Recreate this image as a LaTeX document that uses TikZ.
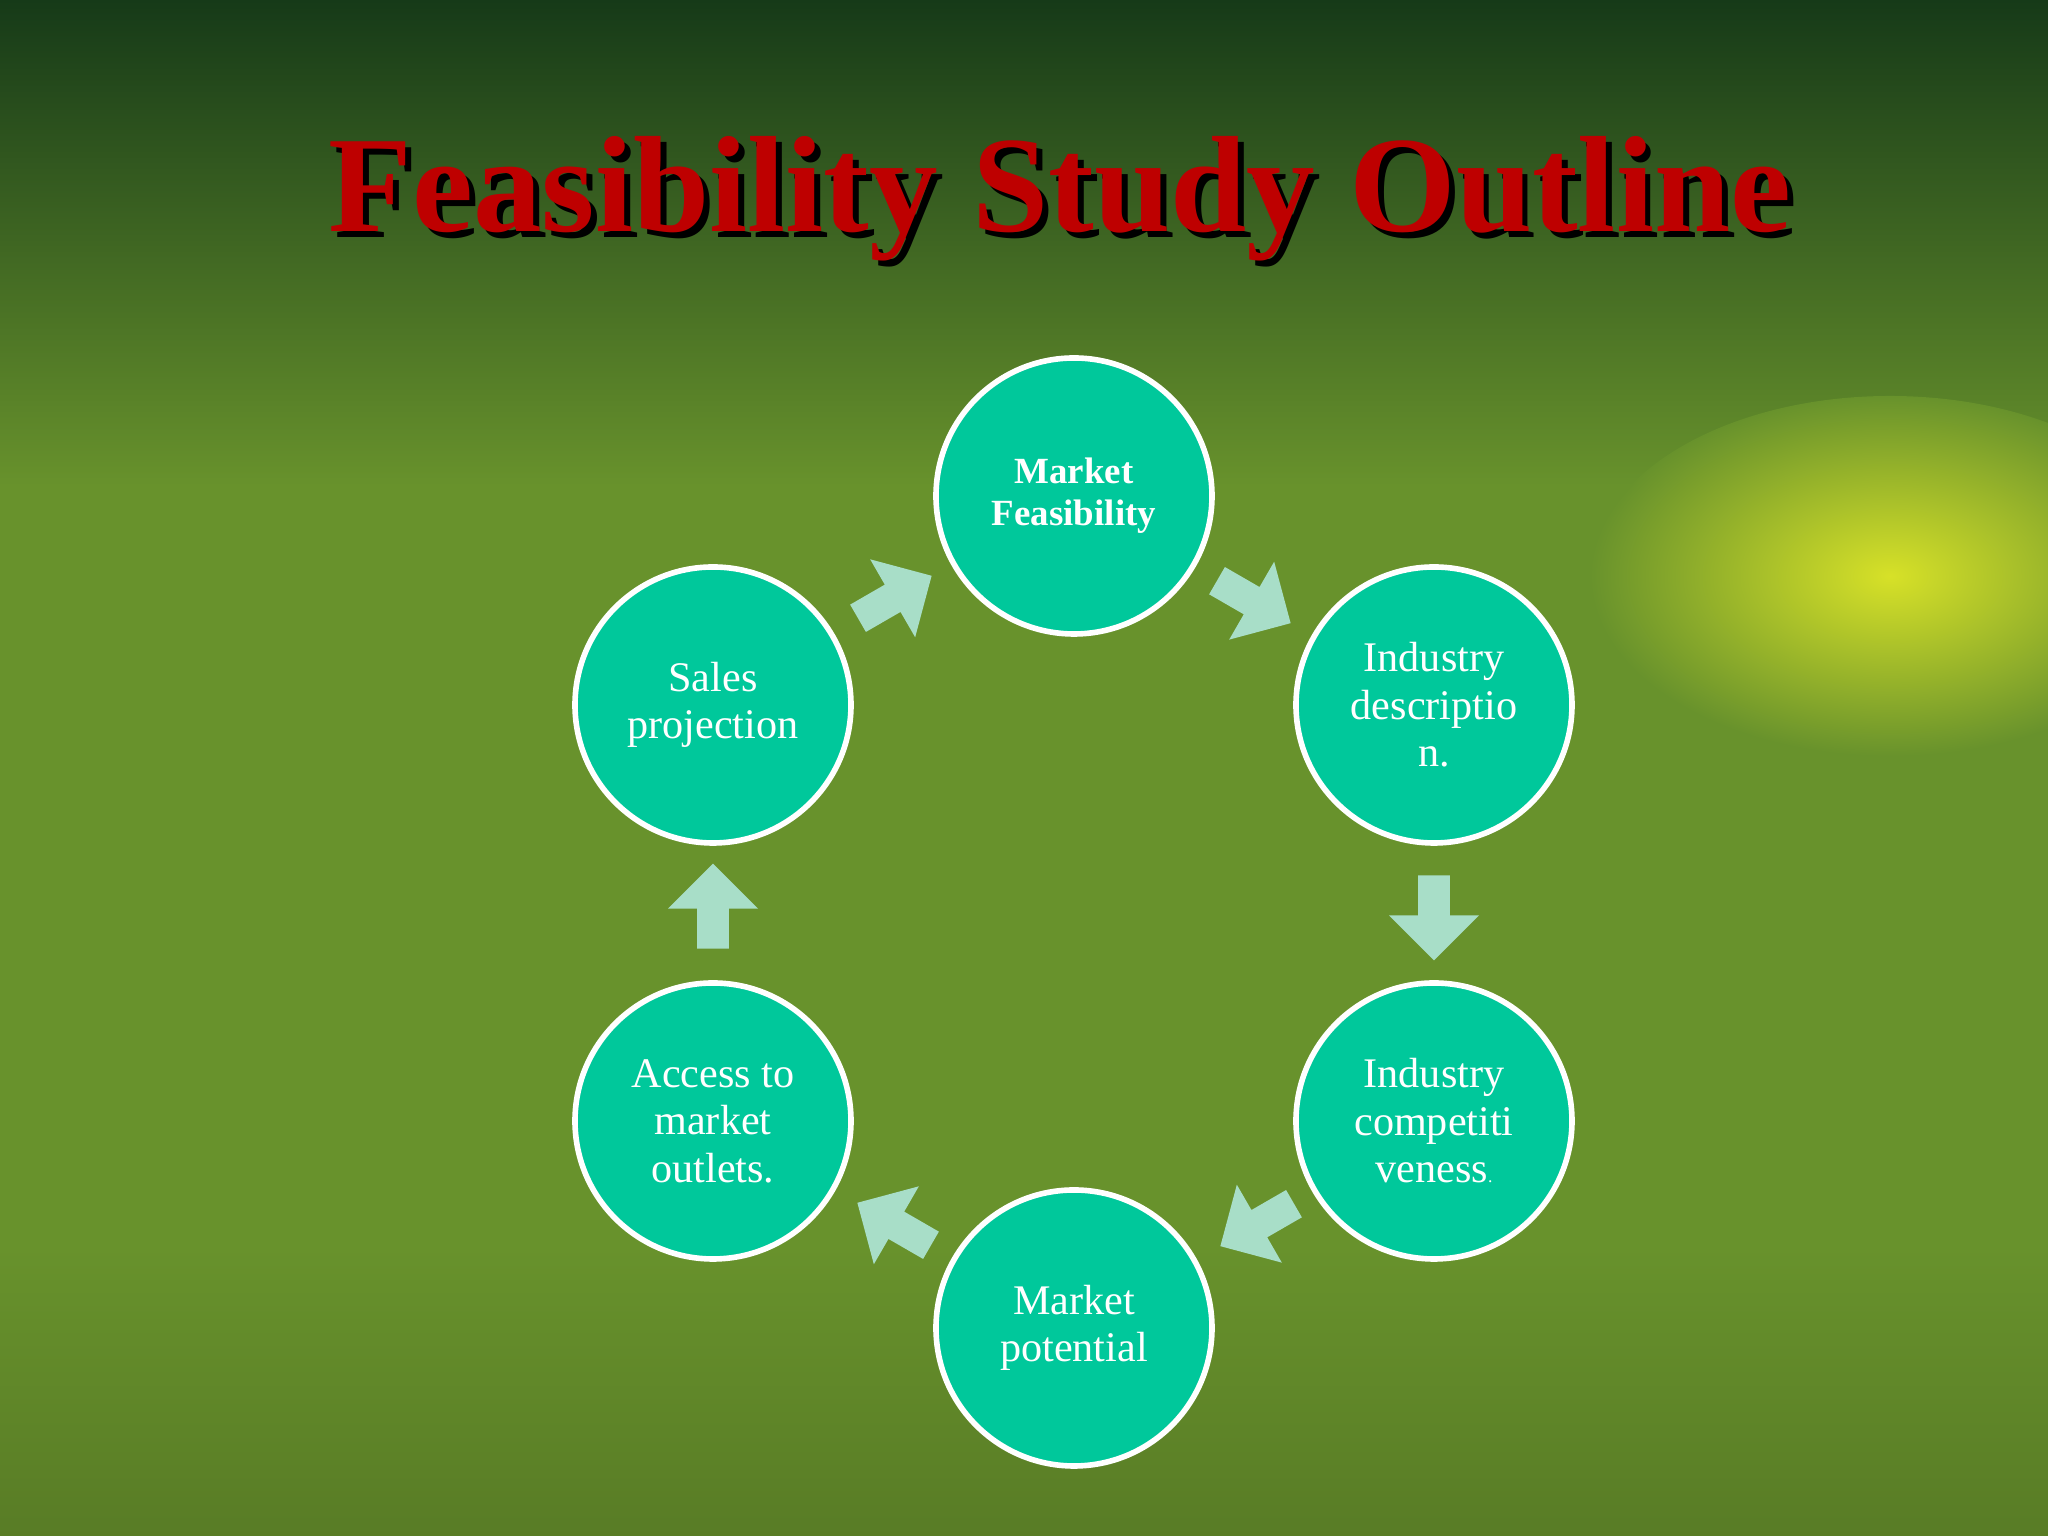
\documentclass[tikz,border=0pt]{standalone}
\usepackage{fontspec}
\setmainfont{Liberation Serif}
\usetikzlibrary{shapes.arrows}
\definecolor{bgg}{RGB}{104,146,44}
\definecolor{topg}{RGB}{22,58,24}
\definecolor{circ}{RGB}{0,200,155}
\definecolor{arr}{RGB}{168,222,200}
\definecolor{ttl}{RGB}{190,0,0}
\definecolor{glow}{RGB}{215,225,40}
\tikzset{
  stage/.style={circle,draw=white,line width=1.6pt,fill=circ,minimum size=2.76cm,inner sep=0pt,
    text=white,align=center,font=\fontsize{12}{13.5}\selectfont},
  blockarrow/.style={single arrow,fill=arr,draw=none,minimum height=0.85cm,minimum width=0.9cm,
    single arrow head extend=0.18cm,inner sep=0.09cm},
  titletext/.style={font=\fontsize{39}{44}\selectfont\bfseries}
}
\begin{document}
\begin{tikzpicture}
\useasboundingbox (0,0) rectangle (20.48,15.36);
\fill[bgg] (0,0) rectangle (20.48,15.36);
\shade[top color=topg,bottom color=bgg] (0,10.5) rectangle (20.48,15.36);
\shade[inner color=glow,outer color=bgg] (18.9,9.6) ellipse (3.0cm and 1.8cm);
\shade[top color=bgg,bottom color=bgg!85!black] (0,0) rectangle (20.48,2.9);
\node[titletext,text=ttl] (title) at (10.6,13.34)
  {\makebox[0pt][l]{\hspace{0.06cm}\raisebox{-0.06cm}{\color{black}Feasibility Study Outline}}Feasibility Study Outline};
\node[stage,font=\fontsize{10.5}{12}\selectfont\bfseries] (mf) at (10.74,10.40) {Market\\Feasibility};
\node[stage] (id) at (14.34,8.31) {Industry\\descriptio\\n.};
\node[stage] (ic) at (14.34,4.15) {Industry\\competiti\\veness{\tiny.}};
\node[stage] (mp) at (10.74,2.08) {Market\\potential};
\node[stage] (am) at (7.13,4.15) {Access to\\market\\outlets.};
\node[stage] (sp) at (7.13,8.31) {Sales\\projection};
\node[blockarrow,rotate=-30] (a1) at (12.47,9.38) {};
\node[blockarrow,rotate=-90] (a2) at (14.34,6.26) {};
\node[blockarrow,rotate=-150] (a3) at (12.64,3.15) {};
\node[blockarrow,rotate=150] (a4) at (9.01,3.08) {};
\node[blockarrow,rotate=90] (a5) at (7.13,6.22) {};
\node[blockarrow,rotate=30] (a6) at (8.88,9.35) {};
\end{tikzpicture}
\end{document}
